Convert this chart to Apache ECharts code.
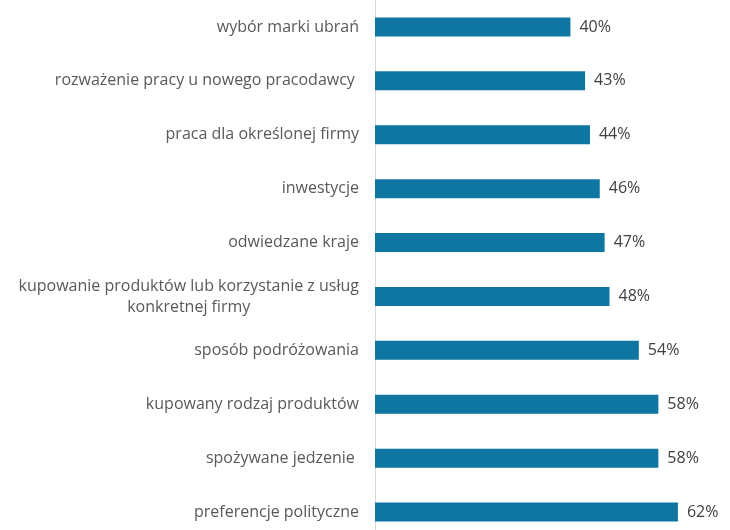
<!DOCTYPE html>
<html><head><meta charset="utf-8">
<script src="https://cdn.jsdelivr.net/npm/echarts@6/dist/echarts.min.js"></script>
<style>html,body{margin:0;padding:0;background:#fff;overflow:hidden}#c{width:730px;height:540px}</style>
</head><body><div id="c"></div>
<script>
const categories = [
  "wybór marki ubrań",
  "rozważenie pracy u nowego pracodawcy ",
  "praca dla określonej firmy",
  "inwestycje",
  "odwiedzane kraje",
  "kupowanie produktów lub korzystanie z usług\nkonkretnej firmy",
  "sposób podróżowania",
  "kupowany rodzaj produktów",
  "spożywane jedzenie ",
  "preferencje polityczne"
];
const values = [40, 43, 44, 46, 47, 48, 54, 58, 58, 62];

const chart = echarts.init(document.getElementById('c'));
chart.setOption({
  animation: false,
  grid: { left: 375, right: 13, top: 0, bottom: 1 },
  xAxis: { type: 'value', min: 0, max: 70, show: false },
  yAxis: {
    type: 'category', data: categories, inverse: true,
    axisLine: { show: true, lineStyle: { color: '#d9d9d9', width: 1 } },
    axisTick: { show: false },
    axisLabel: {
      margin: 16, color: '#595959', fontFamily: 'Open Sans', fontSize: 16,
      formatter: function (v) {
        return v.split('\n').map(s => '{c|' + s + '}').join('\n');
      },
      rich: { c: { align: 'center', color: '#595959', fontFamily: 'Open Sans', fontSize: 16, lineHeight: 21 } }
    }
  },
  series: [{
    type: 'bar', data: values, barWidth: 19,
    itemStyle: { color: '#0E76A0' },
    label: { show: true, position: 'right', distance: 9, formatter: '{c}%', color: '#404040', fontFamily: 'Open Sans', fontSize: 16 }
  }]
});
</script></body></html>
